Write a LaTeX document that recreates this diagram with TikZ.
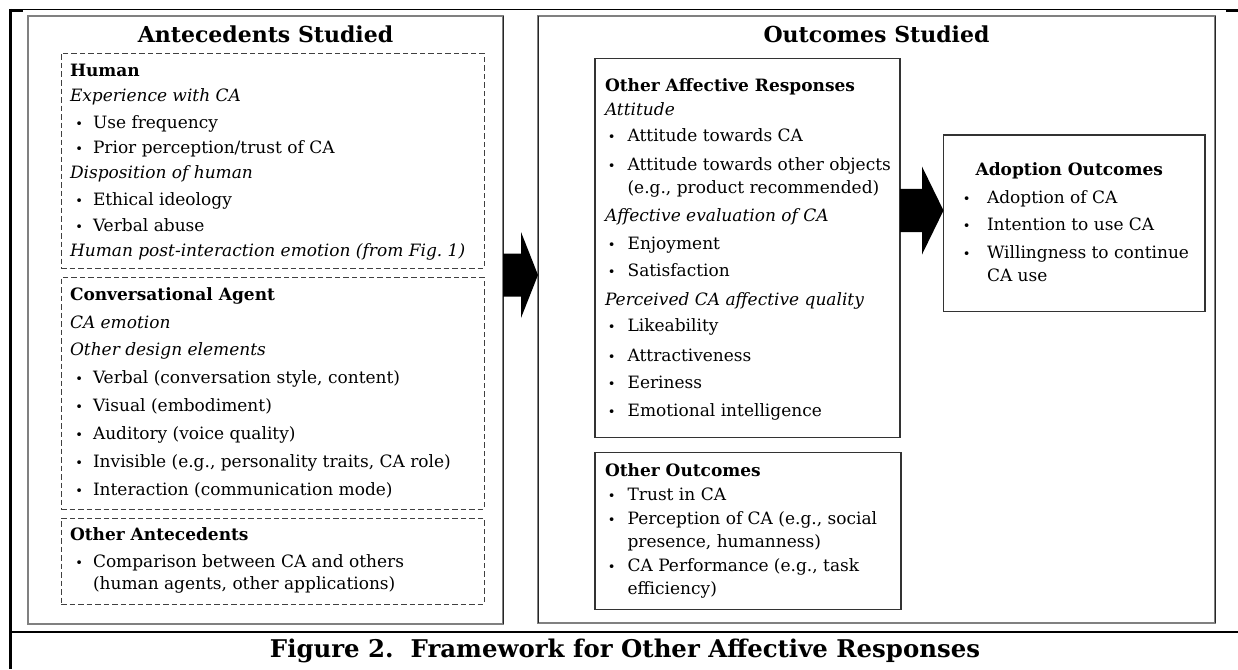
\documentclass[tikz,border=0pt]{standalone}
\usepackage{fontspec}
\setmainfont{DejaVu Serif}
\usetikzlibrary{calc}
% bullet hung to the left of an item's text; optional gap before the text
\newcommand\bltpt[1][10pt]{\llap{{\fontsize{13}{15}\selectfont\textbullet}\hspace{#1}}}
\begin{document}
\begin{tikzpicture}[x=1pt,y=-1pt,
  every node/.style={inner sep=0pt,outer sep=0pt},
  body/.style={anchor=base west,font=\fontsize{17}{20}\selectfont,text=black},
  head/.style={body,font=\fontsize{17}{20}\selectfont\bfseries},
  sub/.style={body,font=\fontsize{17}{20}\selectfont\itshape},
  paneltitle/.style={anchor=base,font=\fontsize{22}{26}\selectfont\bfseries},
  panel/.style={draw=black!50,line width=1.6pt,anchor=north west},
  group/.style={draw=black!75,line width=0.9pt,dash pattern=on 5.5pt off 3pt,anchor=north west},
  card/.style={draw=black!80,line width=1.1pt,anchor=north west},
  bigarrow/.style={fill=black},
  rulebar/.style={draw=black}
]
\fill[white] (0,0) rectangle (1238,669);
\useasboundingbox (0,0) rectangle (1238,669);

% table rules around the figure
\draw[rulebar,line width=1.4pt] (9,9.5) -- (1238,9.5);
\draw[rulebar,line width=2.2pt] (10,10.5) -- (23,10.5);
\draw[rulebar,line width=2.2pt] (1226,10.5) -- (1238,10.5);
\draw[rulebar,line width=2.2pt] (10.5,9) -- (10.5,669);
\draw[rulebar,line width=2.8pt] (9,632) -- (1238,632);

% ---------------- antecedents panel ----------------
\node[panel,minimum width=475pt,minimum height=608pt] (antpanel) at (28,16) {};
\draw[black!85,line width=0.8pt] (antpanel.north east) -- (antpanel.south east);
\node[paneltitle] (anttitle) at (265.5,43) {Antecedents Studied};

\node[group,minimum width=423pt,minimum height=215pt] (humanbox) at (61,53) {};
\node[head] (hum0) at (70,76.5) {Human};
\node[sub]  (hum1) at (70,101.5) {Experience with CA};
\node[body] (hum2) at (93,128.5) {\bltpt Use frequency};
\node[body] (hum3) at (93,153.5) {\bltpt Prior perception/trust of CA};
\node[sub]  (hum4) at (70,178.5) {Disposition of human};
\node[body] (hum5) at (93,205) {\bltpt Ethical ideology};
\node[body] (hum6) at (93,231.5) {\bltpt Verbal abuse};
\node[sub]  (hum7) at (70,256.5) {Human post-interaction emotion (from Fig.~1)};

\node[group,minimum width=423pt,minimum height=232pt] (cabox) at (61,277) {};
\node[head] (ca0) at (70,300) {Conversational Agent};
\node[sub]  (ca1) at (70,328) {CA emotion};
\node[sub]  (ca2) at (70,355) {Other design elements};
\node[body] (ca3) at (93,383) {\bltpt Verbal (conversation style, content)};
\node[body] (ca4) at (93,411.5) {\bltpt Visual (embodiment)};
\node[body] (ca5) at (93,439) {\bltpt Auditory (voice quality)};
\node[body] (ca6) at (93,467.5) {\bltpt Invisible (e.g., personality traits, CA role)};
\node[body] (ca7) at (93,495) {\bltpt Interaction (communication mode)};

\node[group,minimum width=423pt,minimum height=86pt] (otherantbox) at (61,518) {};
\node[head] (oa0) at (70,540) {Other Antecedents};
\node[body] (oa1) at (93,567.5) {\bltpt Comparison between CA and others};
\node[body] (oa2) at (93,589) {(human agents, other applications)};

% ---------------- outcomes panel ----------------
\node[panel,minimum width=677pt,minimum height=607pt] (outpanel) at (538,16) {};
\draw[black!85,line width=0.8pt] (outpanel.north west) -- (outpanel.south west);
\draw[black!85,line width=0.8pt] (outpanel.north east) -- (outpanel.south east);
\node[paneltitle] (outtitle) at (876.5,43) {Outcomes Studied};

\node[card,minimum width=305pt,minimum height=379pt] (oarbox) at (595,58.3) {};
\node[head] (oar0)  at (605,91) {Other Affective Responses};
\node[sub]  (oar1)  at (605,115) {Attitude};
\node[body] (oar2)  at (627.6,141.7) {\bltpt[12pt]Attitude towards CA};
\node[body] (oar3)  at (627.6,170) {\bltpt[12pt]Attitude towards other objects};
\node[body] (oar4)  at (627.6,193) {(e.g., product recommended)};
\node[sub]  (oar5)  at (605,221) {Affective evaluation of CA};
\node[body] (oar6)  at (627.6,249.5) {\bltpt[12pt]Enjoyment};
\node[body] (oar7)  at (627.6,276.7) {\bltpt[12pt]Satisfaction};
\node[sub]  (oar8)  at (605,305) {Perceived CA affective quality};
\node[body] (oar9)  at (627.6,331.7) {\bltpt[12pt]Likeability};
\node[body] (oar10) at (627.6,361) {\bltpt[12pt]Attractiveness};
\node[body] (oar11) at (627.6,388) {\bltpt[12pt]Eeriness};
\node[body] (oar12) at (627.6,416) {\bltpt[12pt]Emotional intelligence};

\node[card,minimum width=306pt,minimum height=157pt] (oobox) at (595,452.3) {};
\node[head] (oo0) at (605,476.7) {Other Outcomes};
\node[body] (oo1) at (627.6,500.7) {\bltpt[12pt]Trust in CA};
\node[body] (oo2) at (627.6,524) {\bltpt[12pt]Perception of CA (e.g., social};
\node[body] (oo3) at (627.6,547.3) {presence, humanness)};
\node[body] (oo4) at (627.6,571) {\bltpt[12pt]CA Performance (e.g., task};
\node[body] (oo5) at (627.6,594.3) {efficiency)};

\node[card,minimum width=261.5pt,minimum height=176.7pt] (adoptbox) at (943.5,135) {};
\node[head] (ad0) at (975.6,175) {Adoption Outcomes};
\node[body] (ad1) at (987,203.3) {\bltpt[16.5pt]Adoption of CA};
\node[body] (ad2) at (987,230.7) {\bltpt[16.5pt]Intention to use CA};
\node[body] (ad3) at (987,258.3) {\bltpt[16.5pt]Willingness to continue};
\node[body] (ad4) at (987,281.7) {CA use};

% ---------------- block arrows ----------------
\coordinate (a1s) at (antpanel.east |- 0,275);
\coordinate (a1e) at (outpanel.west |- 0,275);
\fill[bigarrow] ($(a1s)+(0,-21.5)$) -- ($(a1e)+(-17,-21.5)$) -- ($(a1e)+(-17,-43)$)
  -- (a1e) -- ($(a1e)+(-17,43)$) -- ($(a1e)+(-17,21.5)$) -- ($(a1s)+(0,21.5)$) -- cycle;

\coordinate (a2s) at (oarbox.east |- 0,210.5);
\coordinate (a2e) at (adoptbox.west |- 0,210.5);
\fill[bigarrow] ($(a2s)+(0,-21.7)$) -- ($(a2e)+(-21.5,-21.7)$) -- ($(a2e)+(-21.5,-44)$)
  -- (a2e) -- ($(a2e)+(-21.5,44)$) -- ($(a2e)+(-21.5,21.7)$) -- ($(a2s)+(0,21.7)$) -- cycle;

% ---------------- caption ----------------
\node[anchor=base,font=\fontsize{24.4}{28}\selectfont\bfseries] (caption) at (625,657)
  {Figure 2.\ \ Framework for Other Affective Responses};
\end{tikzpicture}
\end{document}
